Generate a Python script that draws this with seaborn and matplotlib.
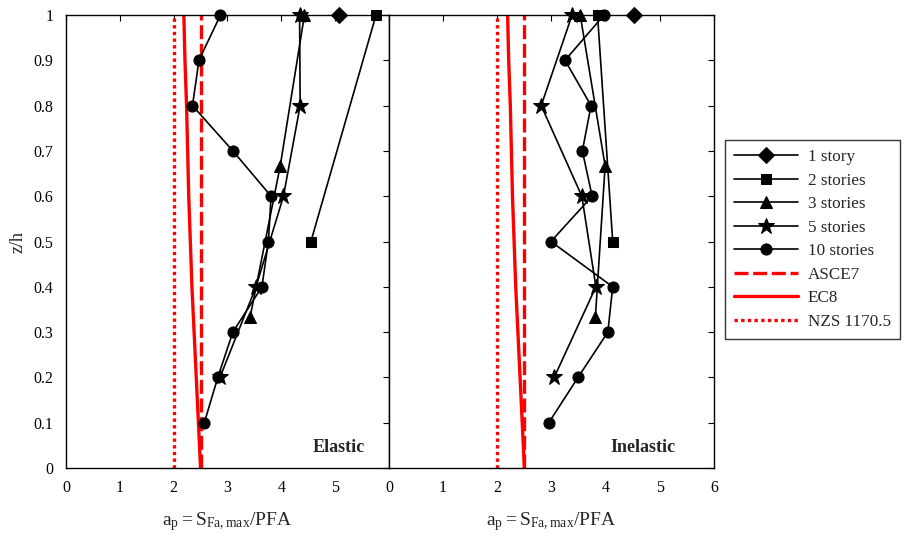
import matplotlib
matplotlib.use("Agg")
import matplotlib.pyplot as plt
import seaborn as sns
import pandas as pd

# ---------------- data ----------------
z1 = [1.0]
z2 = [1.0, 0.5]
z3 = [1.0, 0.667, 0.333]
z5 = [1.0, 0.8, 0.6, 0.4, 0.2]
z10 = [1.0, 0.9, 0.8, 0.7, 0.6, 0.5, 0.4, 0.3, 0.2, 0.1]

el_1 = [5.08]
el_2 = [5.76, 4.55]
el_3 = [4.43, 3.98, 3.42]
el_5 = [4.34, 4.35, 4.04, 3.53, 2.86]
el_10 = [2.87, 2.47, 2.35, 3.10, 3.81, 3.76, 3.64, 3.10, 2.82, 2.57]

in_1 = [4.52]
in_2 = [3.85, 4.13]
in_3 = [3.53, 3.99, 3.81]
in_5 = [3.38, 2.81, 3.56, 3.82, 3.05]
in_10 = [3.97, 3.25, 3.73, 3.57, 3.75, 2.99, 4.13, 4.04, 3.49, 2.95]

code_z = [0.0, 0.1, 0.2, 0.3, 0.4, 0.5, 0.6, 0.7, 0.8, 0.9, 1.0]
asce7 = [2.5] * 11
ec8 = [2.50, 2.46, 2.42, 2.38, 2.34, 2.31, 2.28, 2.26, 2.24, 2.21, 2.19]
nzs = [2.0] * 11

series_labels = ["1 story", "2 stories", "3 stories", "5 stories", "10 stories"]
markers = ["D", "s", "^", "*", "o"]
code_labels = ["ASCE7", "EC8", "NZS 1170.5"]
x_ticks = [0, 1, 2, 3, 4, 5, 6]
y_ticks = [0, 0.1, 0.2, 0.3, 0.4, 0.5, 0.6, 0.7, 0.8, 0.9, 1]
panel_titles = ["Elastic", "Inelastic"]
xlabel = r"$\mathregular{a_p=S_{Fa,max}/PFA}$"
ylabel = "z/h"

# ---------------- style ----------------
sns.set_style("white")
plt.rcParams["font.family"] = ["Liberation Serif", "DejaVu Serif"]
plt.rcParams["mathtext.fontset"] = "custom"
plt.rcParams["mathtext.rm"] = "Liberation Serif"
plt.rcParams["mathtext.it"] = "Liberation Serif"
plt.rcParams["xtick.direction"] = "in"
plt.rcParams["ytick.direction"] = "in"

fig = plt.figure(figsize=(9.09, 5.34), dpi=100)
axL = fig.add_axes([0.0726, 0.1236, 0.3553, 0.8483])
axR = fig.add_axes([0.4279, 0.1236, 0.3576, 0.8483])

zs = [z1, z2, z3, z5, z10]
sizes = {"D": 8.5, "s": 7.5, "^": 8.5, "*": 12, "o": 8}
panels = [
    (axL, [el_1, el_2, el_3, el_5, el_10], panel_titles[0], 5.07),
    (axR, [in_1, in_2, in_3, in_5, in_10], panel_titles[1], 4.68),
]

for ax, vals, title, tx in panels:
    for lab, mk, zz, xx in zip(series_labels, markers, zs, vals):
        df = pd.DataFrame({"x": xx, "z": zz})
        sns.lineplot(data=df, x="x", y="z", sort=False, estimator=None,
                     color="black", marker=mk, markersize=sizes[mk], linewidth=1.2,
                     markeredgecolor="black", label=lab, ax=ax, clip_on=False,
                     zorder=4)
    cdf = pd.DataFrame({"z": code_z, "asce": asce7, "ec8": ec8, "nzs": nzs})
    sns.lineplot(data=cdf, x="asce", y="z", sort=False, estimator=None, color="red",
                 linewidth=2.4, label=code_labels[0], ax=ax)
    ax.lines[-1].set_linestyle((0, (4.2, 1.4)))
    sns.lineplot(data=cdf, x="ec8", y="z", sort=False, estimator=None, color="red",
                 linewidth=2.4, label=code_labels[1], ax=ax)
    sns.lineplot(data=cdf, x="nzs", y="z", sort=False, estimator=None, color="red",
                 linewidth=2.4, label=code_labels[2], ax=ax)
    ax.lines[-1].set_linestyle((0, (1, 1)))

    ax.set_xlim(0, 6)
    ax.set_ylim(0, 1)
    ax.set_xticks(x_ticks)
    ax.set_yticks(y_ticks)
    ax.tick_params(axis="both", which="both", direction="in", top=True, right=True,
                   length=4, width=0.8, labelsize=11.5, colors="black", pad=9)
    for sp in ax.spines.values():
        sp.set_visible(True)
        sp.set_color("black")
        sp.set_linewidth(1.0)
        sp.set_zorder(5)
    ax.text(tx, 0.045, title, ha="center", va="center", fontsize=13, fontweight="bold")
    ax.set_xlabel(xlabel, fontsize=14, labelpad=10)
    ax.set_ylabel("")

axL.set_xticklabels(["0", "1", "2", "3", "4", "5", ""])
axL.set_yticklabels(["0", "0.1", "0.2", "0.3", "0.4", "0.5", "0.6", "0.7", "0.8", "0.9", "1"])
axL.set_ylabel(ylabel, fontsize=13, labelpad=5)
axR.set_yticklabels([])

handles, labels = axL.get_legend_handles_labels()
axL.get_legend().remove()
axR.get_legend().remove()
leg = fig.legend(handles, labels, loc="upper left", bbox_to_anchor=(0.7975, 0.738),
                 fontsize=12.3, handlelength=3.7, labelspacing=0.44, borderpad=0.55,
                 frameon=True, fancybox=False, edgecolor="black", handletextpad=0.6,
                 borderaxespad=0.0)
leg.get_frame().set_linewidth(1.0)

fig.savefig("out.png", dpi=100, facecolor="white")
